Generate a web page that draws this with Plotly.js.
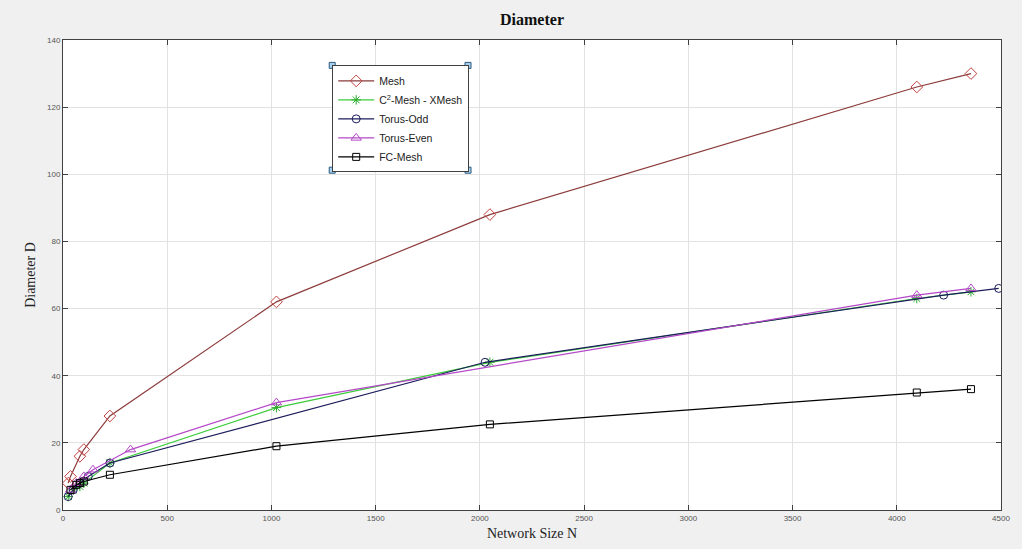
<!DOCTYPE html>
<html>
<head>
<meta charset="utf-8">
<script src="https://cdn.plot.ly/plotly-3.0.1.min.js"></script>
<style>html,body{margin:0;padding:0;background:#f0f0f0;}#chart{width:1022px;height:549px;}</style>
</head>
<body>
<div id="chart"></div>
<script>
// Data
const meshN = [25, 36, 81, 100, 225, 1024, 2048, 4096, 4356];
const meshD = [8, 10, 16, 18, 28, 62, 88, 126, 130];

const c2N = [25, 49, 81, 100, 225, 1024, 2048, 4096, 4356];
const c2D = [4, 6, 7, 8, 14, 30.5, 44, 63, 65];

const torusOddN = [25, 49, 81, 121, 225, 2025, 4225, 4489];
const torusOddD = [4, 6, 8, 10, 14, 44, 64, 66];

const torusEvenN = [36, 64, 100, 144, 324, 1024, 4096, 4356];
const torusEvenD = [6, 8, 10, 12, 18, 32, 64, 66];

const fcN = [36, 64, 81, 100, 225, 1024, 2048, 4096, 4356];
const fcD = [6, 7.5, 8, 8.5, 10.5, 19, 25.5, 35, 36];

const xTicks = [0, 500, 1000, 1500, 2000, 2500, 3000, 3500, 4000, 4500];
const yTicks = [0, 20, 40, 60, 80, 100, 120, 140];

function tr(name, x, y, color, symbol, mcolor, msize) {
  return {
    type: 'scatter', mode: 'lines+markers', name: name, x: x, y: y,
    line: {color: color, width: 1.2},
    marker: {symbol: symbol, size: msize || 8, color: mcolor || color, line: {width: 1, color: mcolor || color}}
  };
}

const data = [
  tr('Mesh', meshN, meshD, '#8c3b3b', 'diamond-open', '#c04040', 9),
  tr('C<sup>2</sup>-Mesh - XMesh', c2N, c2D, '#3ccc3c', 'asterisk-open', '#2faa2f', 8),
  tr('Torus-Odd', torusOddN, torusOddD, '#1c1c5c', 'circle-open', '#1c1c5c', 8),
  tr('Torus-Even', torusEvenN, torusEvenD, '#b548c8', 'triangle-up-open', '#b548c8', 9),
  tr('FC-Mesh', fcN, fcD, '#000000', 'square-open', '#000000', 7)
];

const serif = '"Liberation Serif", "DejaVu Serif", serif';
const tickFont = {family: '"Liberation Sans", Arial, sans-serif', size: 8, color: '#555555'};

// legend box selection handles (small squares at the legend corners)
const hx = [0.287, 0.4318];
const hy = [0.946, 0.723];
const shapes = [];
hx.forEach(function (x) {
  hy.forEach(function (y) {
    shapes.push({type: 'rect', xref: 'paper', yref: 'paper', xsizemode: 'pixel', ysizemode: 'pixel',
      xanchor: x, yanchor: y, x0: -3, x1: 3, y0: -3, y1: 3,
      fillcolor: '#a8d0ec', line: {color: '#2a5a80', width: 1}});
  });
});

const layout = {
  width: 1022, height: 549,
  paper_bgcolor: '#f0f0f0', plot_bgcolor: '#ffffff',
  margin: {l: 63, r: 21, t: 40, b: 39},
  title: {text: '<b>Diameter</b>', font: {family: serif, size: 16, color: '#111'}, x: 0.5, xref: 'paper', y: 0.965, yanchor: 'middle'},
  showlegend: true,
  legend: {
    x: 0.287, y: 0.946, xanchor: 'left', yanchor: 'top',
    bgcolor: '#ffffff', bordercolor: '#404040', borderwidth: 1,
    font: {family: '"Liberation Sans", Arial, sans-serif', size: 10.5, color: '#222'},
    tracegroupgap: 0, itemwidth: 36
  },
  xaxis: {
    range: [0, 4500], tickvals: xTicks, ticktext: xTicks.map(String),
    showgrid: true, gridcolor: '#e2e2e2', zeroline: false,
    showline: true, linecolor: '#404040', linewidth: 1, mirror: 'ticks',
    ticks: 'inside', ticklen: 5, tickcolor: '#404040', tickfont: tickFont,
    title: {text: 'Network Size N', font: {family: serif, size: 14, color: '#222'}, standoff: 6}
  },
  yaxis: {
    range: [0, 140], tickvals: yTicks, ticktext: yTicks.map(String),
    showgrid: true, gridcolor: '#e2e2e2', zeroline: false,
    showline: true, linecolor: '#404040', linewidth: 1, mirror: 'ticks',
    ticks: 'inside', ticklen: 5, tickcolor: '#404040', tickfont: tickFont,
    title: {text: 'Diameter D', font: {family: serif, size: 14, color: '#222'}, standoff: 8}
  },
  shapes: shapes
};

Plotly.newPlot('chart', data, layout, {displayModeBar: false, staticPlot: true});
</script>
</body>
</html>
